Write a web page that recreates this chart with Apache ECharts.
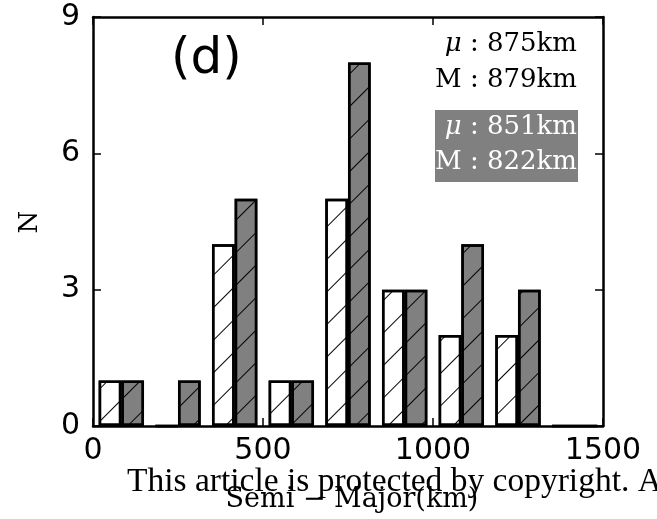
<!DOCTYPE html>
<html>
<head>
<meta charset="utf-8">
<style>
  html, body { margin: 0; padding: 0; background: #ffffff; }
  #chart { width: 657px; height: 519px; }
</style>
<script src="https://cdn.jsdelivr.net/npm/echarts@6/dist/echarts.min.js"></script>
</head>
<body>
<div id="chart"></div>
<script>
// Histogram bins (km): left edge of each bin, 1500/9 wide
const binStarts = [0, 166.67, 333.33, 500, 666.67, 833.33, 1000, 1166.67, 1333.33];
const binWidth = 166.67;
// Counts per bin for the two samples
const countsOpen = [1, 0, 4, 1, 5, 3, 2, 2, 0];
const countsFilled = [1, 1, 5, 1, 8, 3, 4, 3, 0];
// Axis ticks
const xTicks = [0, 500, 1000, 1500];
const yTicks = [0, 3, 6, 9];
// Summary statistics
const statsOpen = { mean: 875, median: 879 };
const statsFilled = { mean: 851, median: 822 };

const chart = echarts.init(document.getElementById('chart'), null, { renderer: 'canvas' });

// each pair of bars fills 80% of the bin, side by side
const pad = binWidth * 0.1;
const half = binWidth * 0.4;
const openData = binStarts.map((s, i) => [s + pad + half / 2, countsOpen[i]]);
const filledData = binStarts.map((s, i) => [s + pad + half * 1.5, countsFilled[i]]);

// "/" hatching drawn over the bar fill
const hatch = () => ({
  symbol: 'rect',
  symbolSize: 1,
  dashArrayX: [1, 0],
  dashArrayY: [1, 22],
  rotation: -Math.PI / 4,
  color: '#000000'
});

const axisLine = () => ({ show: true, onZero: false, lineStyle: { color: '#000', width: 2.5 } });
// negative length points the ticks into the plot area
const tickIn = () => ({ show: true, length: -8, lineStyle: { color: '#000', width: 1.5 } });
const tickFont = () => ({ fontFamily: 'DejaVu Sans', fontSize: 30, color: '#000', formatter: v => String(v) });

const serif = 'Liberation Serif';
const mathSerif = 'DejaVu Serif';

chart.setOption({
  animation: false,
  backgroundColor: '#ffffff',
  grid: { left: 93, right: 54, top: 17, bottom: 93, containLabel: false },
  xAxis: [
    {
      type: 'value', min: xTicks[0], max: xTicks[xTicks.length - 1], interval: 500,
      axisLine: axisLine(), axisTick: tickIn(), splitLine: { show: false },
      axisLabel: Object.assign({ margin: 10 }, tickFont())
    },
    {
      type: 'value', position: 'top', min: xTicks[0], max: xTicks[xTicks.length - 1], interval: 500,
      axisLine: axisLine(), axisTick: tickIn(), splitLine: { show: false }, axisLabel: { show: false }
    }
  ],
  yAxis: [
    {
      type: 'value', min: yTicks[0], max: yTicks[yTicks.length - 1], interval: 3,
      axisLine: axisLine(), axisTick: tickIn(), splitLine: { show: false },
      axisLabel: Object.assign({ margin: 13 }, tickFont())
    },
    {
      type: 'value', position: 'right', min: yTicks[0], max: yTicks[yTicks.length - 1], interval: 3,
      axisLine: axisLine(), axisTick: tickIn(), splitLine: { show: false }, axisLabel: { show: false }
    }
  ],
  series: [
    {
      type: 'bar', data: openData, barWidth: 22.7, barGap: '-100%',
      itemStyle: { color: '#ffffff', borderColor: '#000', borderWidth: 2.5, decal: hatch() }
    },
    {
      type: 'bar', data: filledData, barWidth: 22.7, barGap: '-100%',
      itemStyle: { color: '#808080', borderColor: '#000', borderWidth: 2.5, decal: hatch() }
    }
  ],
  graphic: [
    {
      type: 'text', left: 171, top: 35,
      style: { text: '(d)', fontFamily: 'DejaVu Sans', fontSize: 50, fill: '#000' }
    },
    {
      type: 'rect', shape: { x: 435, y: 110, width: 143, height: 72 },
      style: { fill: '#808080' }, z: 10
    },
    {
      type: 'text', z: 20,
      style: {
        x: 577, y: 44, align: 'right', verticalAlign: 'middle',
        text: '{i|μ} : ' + statsOpen.mean + 'km', fill: '#000',
        font: '26px "' + mathSerif + '"',
        rich: { i: { fontStyle: 'italic', fontFamily: mathSerif, fontSize: 26, fill: '#000' } }
      }
    },
    {
      type: 'text', z: 20,
      style: {
        x: 577, y: 80, align: 'right', verticalAlign: 'middle',
        text: 'M : ' + statsOpen.median + 'km', fill: '#000',
        font: '26px "' + mathSerif + '"'
      }
    },
    {
      type: 'text', z: 20,
      style: {
        x: 577, y: 127, align: 'right', verticalAlign: 'middle',
        text: '{i|μ} : ' + statsFilled.mean + 'km', fill: '#fff',
        font: '26px "' + mathSerif + '"',
        rich: { i: { fontStyle: 'italic', fontFamily: mathSerif, fontSize: 26, fill: '#fff' } }
      }
    },
    {
      type: 'text', z: 20,
      style: {
        x: 577, y: 162, align: 'right', verticalAlign: 'middle',
        text: 'M : ' + statsFilled.median + 'km', fill: '#fff',
        font: '26px "' + mathSerif + '"'
      }
    },
    {
      type: 'text', z: 20, x: 30, y: 222, rotation: Math.PI / 2,
      style: {
        x: 0, y: 0, align: 'center', verticalAlign: 'middle',
        text: 'N', fill: '#000', font: '26px "' + mathSerif + '"'
      }
    },
    {
      type: 'text', z: 20,
      style: {
        x: 127, y: 482, align: 'left', verticalAlign: 'middle',
        text: 'This article is protected by copyright. All rights reserved.', fill: '#000',
        font: '33.5px "' + serif + '"'
      }
    },
    {
      type: 'text', z: 20,
      style: {
        x: 352, y: 500, align: 'center', verticalAlign: 'middle',
        text: 'Semi − Major(km)', fill: '#000',
        font: '27px "' + mathSerif + '"'
      }
    }
  ]
});
</script>
</body>
</html>
